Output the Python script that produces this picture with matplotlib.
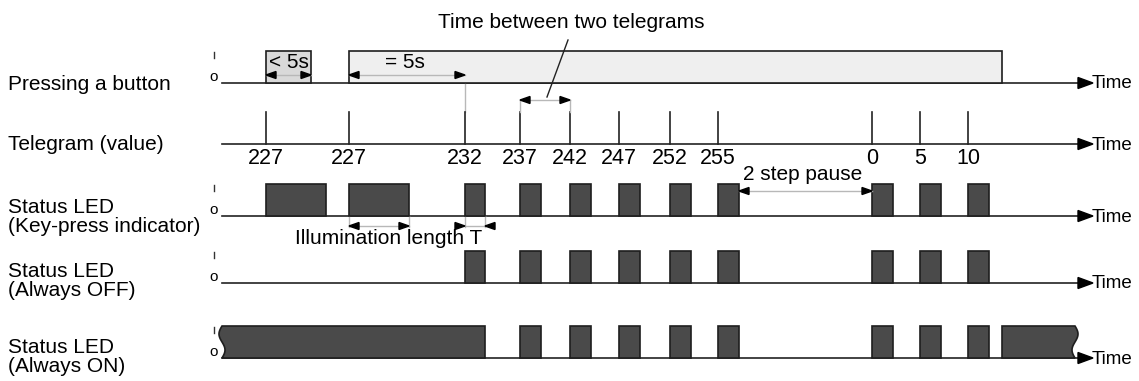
import numpy as np
import matplotlib.pyplot as plt
from matplotlib.patches import Rectangle, Polygon

plt.rcParams['font.family'] = ['Liberation Sans', 'DejaVu Sans']

# time positions (diagram x units) of telegrams and their values
tele_x = [266, 349, 465, 520, 570, 619, 670, 718, 872, 920, 968]
tele_val = ['227', '227', '232', '237', '242', '247', '252', '255', '0', '5', '10']
# button presses (start, end)
press = [(266, 311), (349, 1002)]
# key-press indicator LED pulses (start, end)
led_key = [(266, 326), (349, 409), (465, 485), (520, 541), (570, 591), (619, 640),
           (670, 691), (718, 739), (872, 893), (920, 941), (968, 989)]
led_off = led_key[2:]
led_on_pulses = led_key[3:]
led_on_blocks = [(222, 485), (1002, 1075)]

row_labels = ['Pressing a button', 'Telegram (value)', 'Status LED\n(Key-press indicator)',
              'Status LED\n(Always OFF)', 'Status LED\n(Always ON)']
row_base = [83, 144, 216, 283, 358]
row_label_y = [84, 145, 217, 281, 357]
HI = 32
X0, X1 = 222, 1079
FS = 15

DARK = '#4a4a4a'
EDGE = '#1e1e1e'
GRAY = '#b8b8b8'

fig = plt.figure(figsize=(11.39, 3.81), dpi=100)
ax = fig.add_axes([0, 0, 1, 1])
ax.set_xlim(0, 1139)
ax.set_ylim(381, 0)
ax.axis('off')


def baseline(y, io=True):
    ax.plot([X0, X1], [y, y], color='#222222', lw=1.2, zorder=1)
    ax.add_patch(Polygon([[X1 - 1, y - 5.5], [X1 + 14, y], [X1 - 1, y + 5.5]], closed=True,
                         color='black', zorder=3))
    ax.text(X1 + 13, y + 1, 'Time', fontsize=13.5, va='center', ha='left')
    if io:
        ax.text(214, y + 1, 'o', fontsize=11, va='bottom', ha='center')
        ax.plot([214, 214], [y - HI + 1, y - HI + 7], color='#333333', lw=1)


def pulses(spans, y, fc=DARK):
    for a, b in spans:
        ax.add_patch(Rectangle((a, y - HI), b - a, HI, facecolor=fc, edgecolor=EDGE,
                               lw=1.2, zorder=2))


def dim_arrow(xa, xb, y, inward=False):
    ax.plot([xa, xb], [y, y], color=GRAY, lw=1, zorder=2)
    if not inward:
        ax.add_patch(Polygon([[xa, y], [xa + 10, y - 3.5], [xa + 10, y + 3.5]], color='black', zorder=4))
        ax.add_patch(Polygon([[xb, y], [xb - 10, y - 3.5], [xb - 10, y + 3.5]], color='black', zorder=4))
    else:
        ax.add_patch(Polygon([[xa, y], [xa - 10, y - 3.5], [xa - 10, y + 3.5]], color='black', zorder=4))
        ax.add_patch(Polygon([[xb, y], [xb + 10, y - 3.5], [xb + 10, y + 3.5]], color='black', zorder=4))


# row labels
for lab, ly in zip(row_labels, row_label_y):
    ax.text(8, ly, lab, fontsize=FS, va='center', ha='left', linespacing=1.0)

# row 1: pressing a button
y = row_base[0]
baseline(y)
pulses(press[:1], y, fc='#d9d9d9')
pulses(press[1:], y, fc='#efefef')
dim_arrow(266, 311, 75)
ax.text(289, 63, '< 5s', fontsize=FS, va='center', ha='center')
dim_arrow(349, 465, 75)
ax.text(405, 63, '= 5s', fontsize=FS, va='center', ha='center')
ax.plot([465, 465], [75, 112], color=GRAY, lw=1, zorder=1)

# row 2: telegrams
y = row_base[1]
baseline(y, io=False)
for tx, tv in zip(tele_x, tele_val):
    ax.plot([tx, tx], [112, y], color='#222222', lw=1.2)
    ax.text(tx, y + 4, tv, fontsize=15.5, va='top', ha='center')
ax.plot([520, 520], [100, 112], color=GRAY, lw=1)
ax.plot([570, 570], [100, 112], color=GRAY, lw=1)
dim_arrow(520, 570, 100)
ax.text(571, 23, 'Time between two telegrams', fontsize=FS, va='center', ha='center')
ax.plot([568, 547], [40, 97], color='#222222', lw=1)

# row 3: key-press indicator
y = row_base[2]
baseline(y)
pulses(led_key, y)
dim_arrow(739, 872, 191)
ax.text(803, 174, '2 step pause', fontsize=FS, va='center', ha='center')
for vx in (349, 409, 465, 485):
    ax.plot([vx, vx], [y, y + 11], color=GRAY, lw=1, zorder=1)
dim_arrow(349, 409, 226)
dim_arrow(465, 485, 226, inward=True)
ax.text(389, 238, 'Illumination length T', fontsize=FS, va='center', ha='center')

# row 4: always off
y = row_base[3]
baseline(y)
pulses(led_off, y)

# row 5: always on
y = row_base[4]
baseline(y)
pulses(led_on_pulses, y)
ys = np.linspace(y - HI, y, 30)
wave = 3 * np.sin(2 * np.pi * (ys - (y - HI)) / HI)
a, b = led_on_blocks[0]
pts = [[a - wave[0], y - HI], [b, y - HI], [b, y]] + [[a - w, yy] for w, yy in zip(wave[::-1], ys[::-1])]
ax.add_patch(Polygon(pts, closed=True, facecolor=DARK, edgecolor=EDGE, lw=1.2, zorder=2))
a, b = led_on_blocks[1]
pts = [[a, y], [a, y - HI]] + [[b + w, yy] for w, yy in zip(wave, ys)]
ax.add_patch(Polygon(pts, closed=True, facecolor=DARK, edgecolor=EDGE, lw=1.2, zorder=2))

fig.savefig('out.png', dpi=100)
